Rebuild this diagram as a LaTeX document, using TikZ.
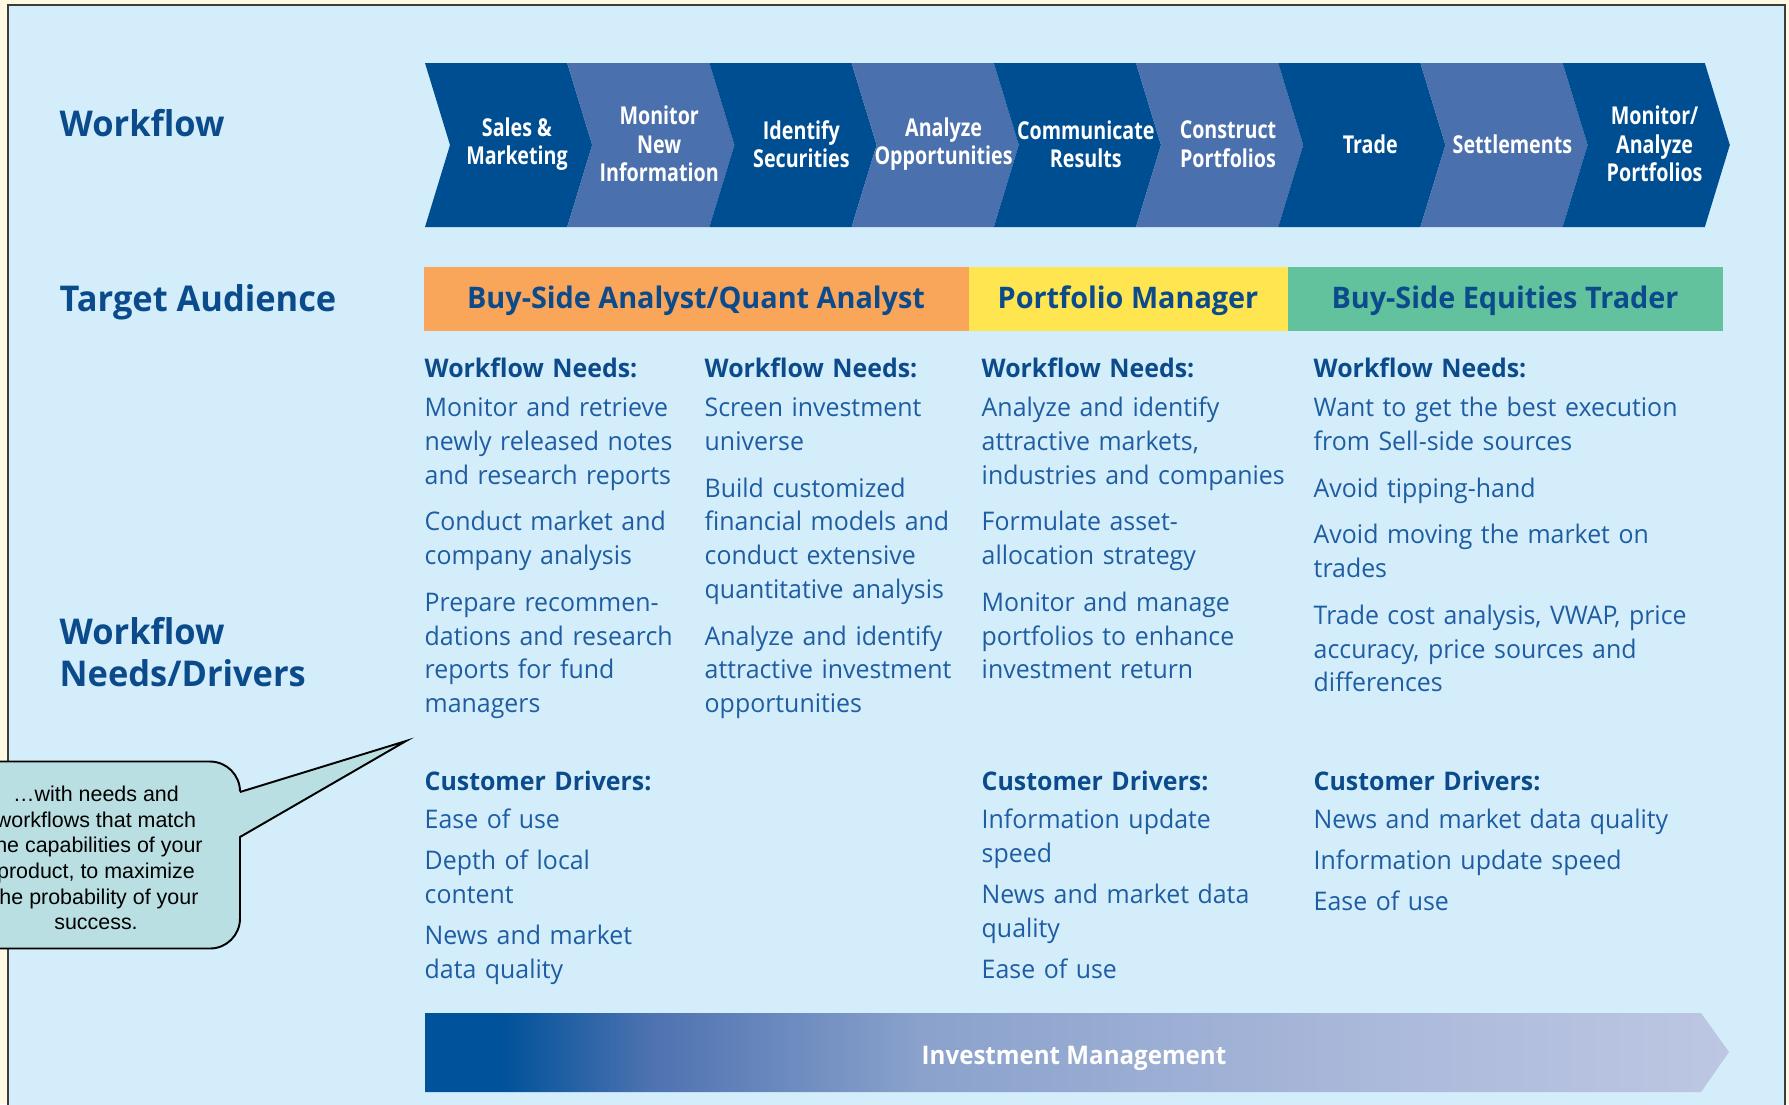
\documentclass[tikz,border=0pt]{standalone}
\usepackage{fontspec}
\setmainfont[FakeStretch=0.97]{Open Sans}
\newfontfamily\chevfont[FakeStretch=0.8]{Open Sans}
\newfontfamily\bandfont[FakeStretch=0.94]{Open Sans}
\newfontfamily\calloutfont{Liberation Sans}
\usetikzlibrary{calc,positioning}

\definecolor{bgcream}{HTML}{FFF8E3}
\definecolor{panelblue}{HTML}{D3EEFA}
\definecolor{framegray}{HTML}{3C3C3C}
\definecolor{wfdark}{HTML}{004E92}
\definecolor{wflight}{HTML}{4A70AD}
\definecolor{headblue}{HTML}{0B4B8C}
\definecolor{bodyblue}{HTML}{1F5DA3}
\definecolor{audorange}{HTML}{F9A65B}
\definecolor{audyellow}{HTML}{FFE54F}
\definecolor{audgreen}{HTML}{62C29D}
\definecolor{calloutfill}{HTML}{B9DFE2}
\definecolor{imdark}{HTML}{00529A}
\definecolor{imblue}{HTML}{4D72B0}
\definecolor{impale}{HTML}{8AA2CC}
\definecolor{imlilac}{HTML}{AAB8DA}
\definecolor{imlight}{HTML}{BDC7E3}

% Verlauf fuer den Pfeil unten
\pgfdeclarehorizontalshading{invgrad}{100bp}{color(0bp)=(imdark); color(25bp)=(imdark);
  color(28bp)=(imdark); color(33.6bp)=(imblue); color(44bp)=(impale);
  color(61bp)=(imlilac); color(75bp)=(imlight); color(100bp)=(imlight)}

\newcommand{\needshead}{\textcolor{headblue}{\bfseries Workflow Needs:}}
\newcommand{\drivershead}{\textcolor{headblue}{\bfseries Customer Drivers:}}

\begin{document}
\begin{tikzpicture}[x=0.1mm, y=-0.1mm,
    rowlabel/.style={anchor=base west, inner sep=0pt, text=headblue,
      font=\fontsize{10.1}{12}\selectfont\bfseries},
    chevtext/.style={align=center, inner sep=0pt, text=white,
      font=\chevfont\bfseries\fontsize{7}{8.1}\selectfont},
    audtext/.style={anchor=base, inner sep=0pt, text=headblue,
      font=\fontsize{8.45}{9}\selectfont\bfseries},
    needs/.style={anchor=base west, inner sep=0pt, text width=45mm, align=left,
      text=bodyblue, font=\fontsize{7.3}{9.6}\selectfont},
    callout/.style={draw=black, line width=0.55pt, fill=calloutfill,
      rounded corners=3mm, minimum width=29mm, minimum height=18.7mm,
      align=center, inner sep=0pt, font=\calloutfont\fontsize{6.1}{7.3}\selectfont}]

    \useasboundingbox (0,0) rectangle (1789,1104);
    \clip (0,0) rectangle (1789,1104);

    % Hintergrund und Rahmen
    \fill[bgcream] (0,0) rectangle (1789,1104);
    \fill[panelblue] (8,5) rectangle (1785,1110);
    \draw[framegray, line width=0.5pt] (8,1110) -- (8,5) -- (1785,5) -- (1785,1110);

    % Zeilenbeschriftung links
    \node[rowlabel] (lblflow) at (59,136) {Workflow};
    \node[rowlabel] (lblaud) at (59,311) {Target Audience};
    \node[rowlabel, text width=40mm, align=left] (lbldrv) at (59,644) {Workflow\\Needs/Drivers};

    % Workflow-Pfeile
    \foreach \lbl [count=\i from 0] in {{Sales \&\\Marketing}, {Monitor\\New\\Information},
        {Identify\\Securities}, {Analyze\\Opportunities}, {Communicate\\Results},
        {Construct\\Portfolios}, {Trade}, {Settlements}, {Monitor/\\Analyze\\Portfolios}} {
      \pgfmathsetmacro{\xl}{425+142.2*\i}
      \pgfmathsetmacro{\xr}{\xl+142.2}
      \ifodd\i \def\chcol{wflight}\else \def\chcol{wfdark}\fi
      \fill[\chcol] (\xl,63) -- (\xr,63) -- (\xr+25,145) -- (\xr,227) -- (\xl,227) -- (\xl+25,145) -- cycle;
      \node[chevtext] (step\i) at (\xl+92,144) {\lbl};
    }

    % Zielgruppen
    \fill[audorange] (424,267) rectangle (969,331);
    \fill[audyellow] (969,267) rectangle (1288,331);
    \fill[audgreen] (1288,267) rectangle (1723,331);
    \node[audtext] (audanalyst) at (696,308) {Buy-Side Analyst/Quant Analyst};
    \node[audtext] (audpm) at (1128,308) {Portfolio Manager};
    \node[audtext] (audtrader) at (1505,308) {Buy-Side Equities Trader};

    % Workflow Needs
    \node[needs] (needsa) at (424,377) {\needshead\\[1.7pt]
      Monitor and retrieve\\ newly released notes\\ and research reports\\[3.7pt]
      Conduct market and\\ company analysis\\[3.7pt]
      Prepare recommen-\\ dations and research\\ reports for fund\\ managers};
    \node[needs] (needsb) at (704,377) {\needshead\\[1.7pt]
      Screen investment\\ universe\\[3.7pt]
      Build customized\\ financial models and\\ conduct extensive\\ quantitative analysis\\[3.7pt]
      Analyze and identify\\ attractive investment\\ opportunities};
    \node[needs] (needsc) at (981,377) {\needshead\\[1.7pt]
      Analyze and identify\\ attractive markets,\\ industries and companies\\[3.7pt]
      Formulate asset-\\ allocation strategy\\[3.7pt]
      Monitor and manage\\ portfolios to enhance\\ investment return};
    \node[needs] (needsd) at (1313,377) {\needshead\\[1.7pt]
      Want to get the best execution\\ from Sell-side sources\\[3.7pt]
      Avoid tipping-hand\\[3.7pt]
      Avoid moving the market on\\ trades\\[3.7pt]
      Trade cost analysis, VWAP, price\\ accuracy, price sources and\\ differences};

    % Customer Drivers
    \node[needs] (drva) at (424,790) {\drivershead\\[1.4pt]
      Ease of use\\[2.1pt]
      Depth of local\\ content\\[2.1pt]
      News and market\\ data quality};
    \node[needs] (drvc) at (981,790) {\drivershead\\[1.4pt]
      Information update\\ speed\\[2.1pt]
      News and market data\\ quality\\[2.1pt]
      Ease of use};
    \node[needs] (drvd) at (1313,790) {\drivershead\\[1.4pt]
      News and market data quality\\[2.1pt]
      Information update speed\\[2.1pt]
      Ease of use};

    % Sprechblase
    \node[callout] (hint) at (95,855) {};
    \node[align=center, inner sep=0pt, font=\calloutfont\fontsize{6.1}{7.3}\selectfont] (hinttext) at (96,858) {\dots with needs and\\ workflows that match\\
      the capabilities of your\\ product, to maximize\\ the probability of your\\ success.};
    \fill[calloutfill] (238,792) -- (406,741) -- (238,837) -- cycle;
    \draw[line width=0.55pt, line join=miter] (240,792) -- (406,741) -- (240,837);

    % Investment Management
    \shade[shading=invgrad] (425,1013) -- (1701,1013) -- (1729,1052) -- (1701,1092) -- (425,1092) -- cycle;
    \node[text=white, inner sep=0pt, font=\bandfont\bfseries\fontsize{7.3}{9}\selectfont] (invest) at (1074,1058) {Investment Management};
\end{tikzpicture}
\end{document}
